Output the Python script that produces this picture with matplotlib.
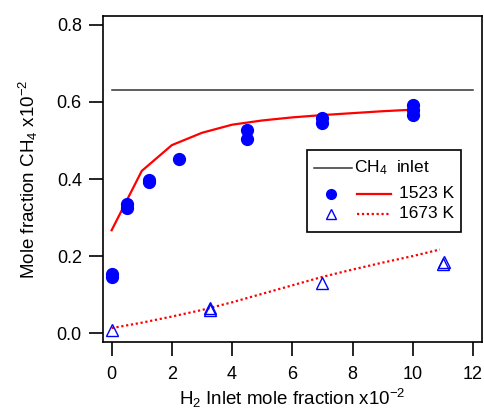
import matplotlib
matplotlib.use("Agg")
import matplotlib.pyplot as plt
from matplotlib.patches import Rectangle

plt.rcParams['font.family'] = ['Liberation Sans', 'DejaVu Sans']
plt.rcParams['mathtext.fontset'] = 'custom'
plt.rcParams['mathtext.rm'] = 'Liberation Sans'
plt.rcParams['mathtext.it'] = 'Liberation Sans:italic'
plt.rcParams['mathtext.bf'] = 'Liberation Sans:bold'

# CH4 feed level
ch4_inlet = 0.63
inlet_x = [0, 12]

# model curves
model_x_1523 = [0, 1, 2, 3, 4, 5, 6, 7, 8, 9, 10]
model_y_1523 = [0.267, 0.421, 0.488, 0.520, 0.541, 0.552, 0.560, 0.566, 0.571, 0.576, 0.580]
model_x_1673 = [0, 1, 2, 3, 4, 5, 6, 7, 8, 9, 10, 10.9]
model_y_1673 = [0.013, 0.027, 0.043, 0.060, 0.080, 0.102, 0.124, 0.146, 0.165, 0.183, 0.200, 0.217]

# measurements
meas_x_1523 = [0, 0, 0.5, 0.5, 1.25, 1.25, 2.25, 4.5, 4.5, 7, 7, 10, 10, 10]
meas_y_1523 = [0.145, 0.153, 0.325, 0.334, 0.392, 0.398, 0.451, 0.503, 0.527, 0.545, 0.559, 0.567, 0.580, 0.593]
meas_x_1673 = [0, 3.25, 3.28, 7, 11, 11.02]
meas_y_1673 = [0.009, 0.061, 0.065, 0.130, 0.180, 0.184]

fig = plt.figure(figsize=(4.84, 4.12), dpi=100)
ax = fig.add_axes([0.212, 0.170, 0.784, 0.791])

ax.plot(inlet_x, [ch4_inlet, ch4_inlet], color='#333333', lw=1.1)
ax.plot(model_x_1523, model_y_1523, color='red', lw=1.6)
ax.plot(model_x_1673, model_y_1673, color='red', lw=1.6, ls=(0, (1, 1.2)))
ax.plot(meas_x_1523, meas_y_1523, 'o', color='blue', ms=8.5, mec='blue', ls='none')
ax.plot(meas_x_1673, meas_y_1673, '^', color='blue', mfc='none', mec='blue', ms=8.5, mew=1.0, ls='none')

ax.set_xlim(-0.30, 12.30)
ax.set_ylim(-0.023, 0.823)
ax.set_xticks([0, 2, 4, 6, 8, 10, 12])
ax.set_yticks([0.0, 0.2, 0.4, 0.6, 0.8])
ax.set_yticklabels(['0.0', '0.2', '0.4', '0.6', '0.8'])
ax.tick_params(direction='out', length=10, width=1.2, labelsize=13, top=False, right=False)
ax.tick_params(axis='x', pad=7)
ax.tick_params(axis='y', pad=5)
for s in ax.spines.values():
    s.set_linewidth(1.2)

ax.set_xlabel(r'H$_2$ Inlet mole fraction x10$^{-2}$', fontsize=13.5, labelpad=3)
ax.set_ylabel(r'Mole fraction CH$_4$ x10$^{-2}$', fontsize=13.5, labelpad=12)

# legend box drawn by hand
T = ax.transAxes
ax.add_patch(Rectangle((0.538, 0.337), 0.406, 0.252, transform=T, fc='white', ec='black', lw=1.2, zorder=5))
ax.plot([0.557, 0.657], [0.534, 0.534], transform=T, color='#333333', lw=1.1, zorder=6)
ax.text(0.663, 0.534, r'CH$_4$  inlet', transform=T, fontsize=12.5, va='center', ha='left', zorder=6)
ax.plot([0.601], [0.455], 'o', transform=T, color='blue', ms=7, zorder=6)
ax.plot([0.670, 0.759], [0.455, 0.455], transform=T, color='red', lw=1.6, zorder=6)
ax.text(0.782, 0.455, '1523 K', transform=T, fontsize=12.5, va='center', ha='left', zorder=6)
ax.plot([0.601], [0.394], '^', transform=T, mfc='none', mec='blue', ms=6.5, mew=1.0, zorder=6)
ax.plot([0.670, 0.759], [0.394, 0.394], transform=T, color='red', lw=1.6, ls=(0, (1, 1.2)), zorder=6)
ax.text(0.782, 0.394, '1673 K', transform=T, fontsize=12.5, va='center', ha='left', zorder=6)

fig.savefig('out.png', dpi=100)
